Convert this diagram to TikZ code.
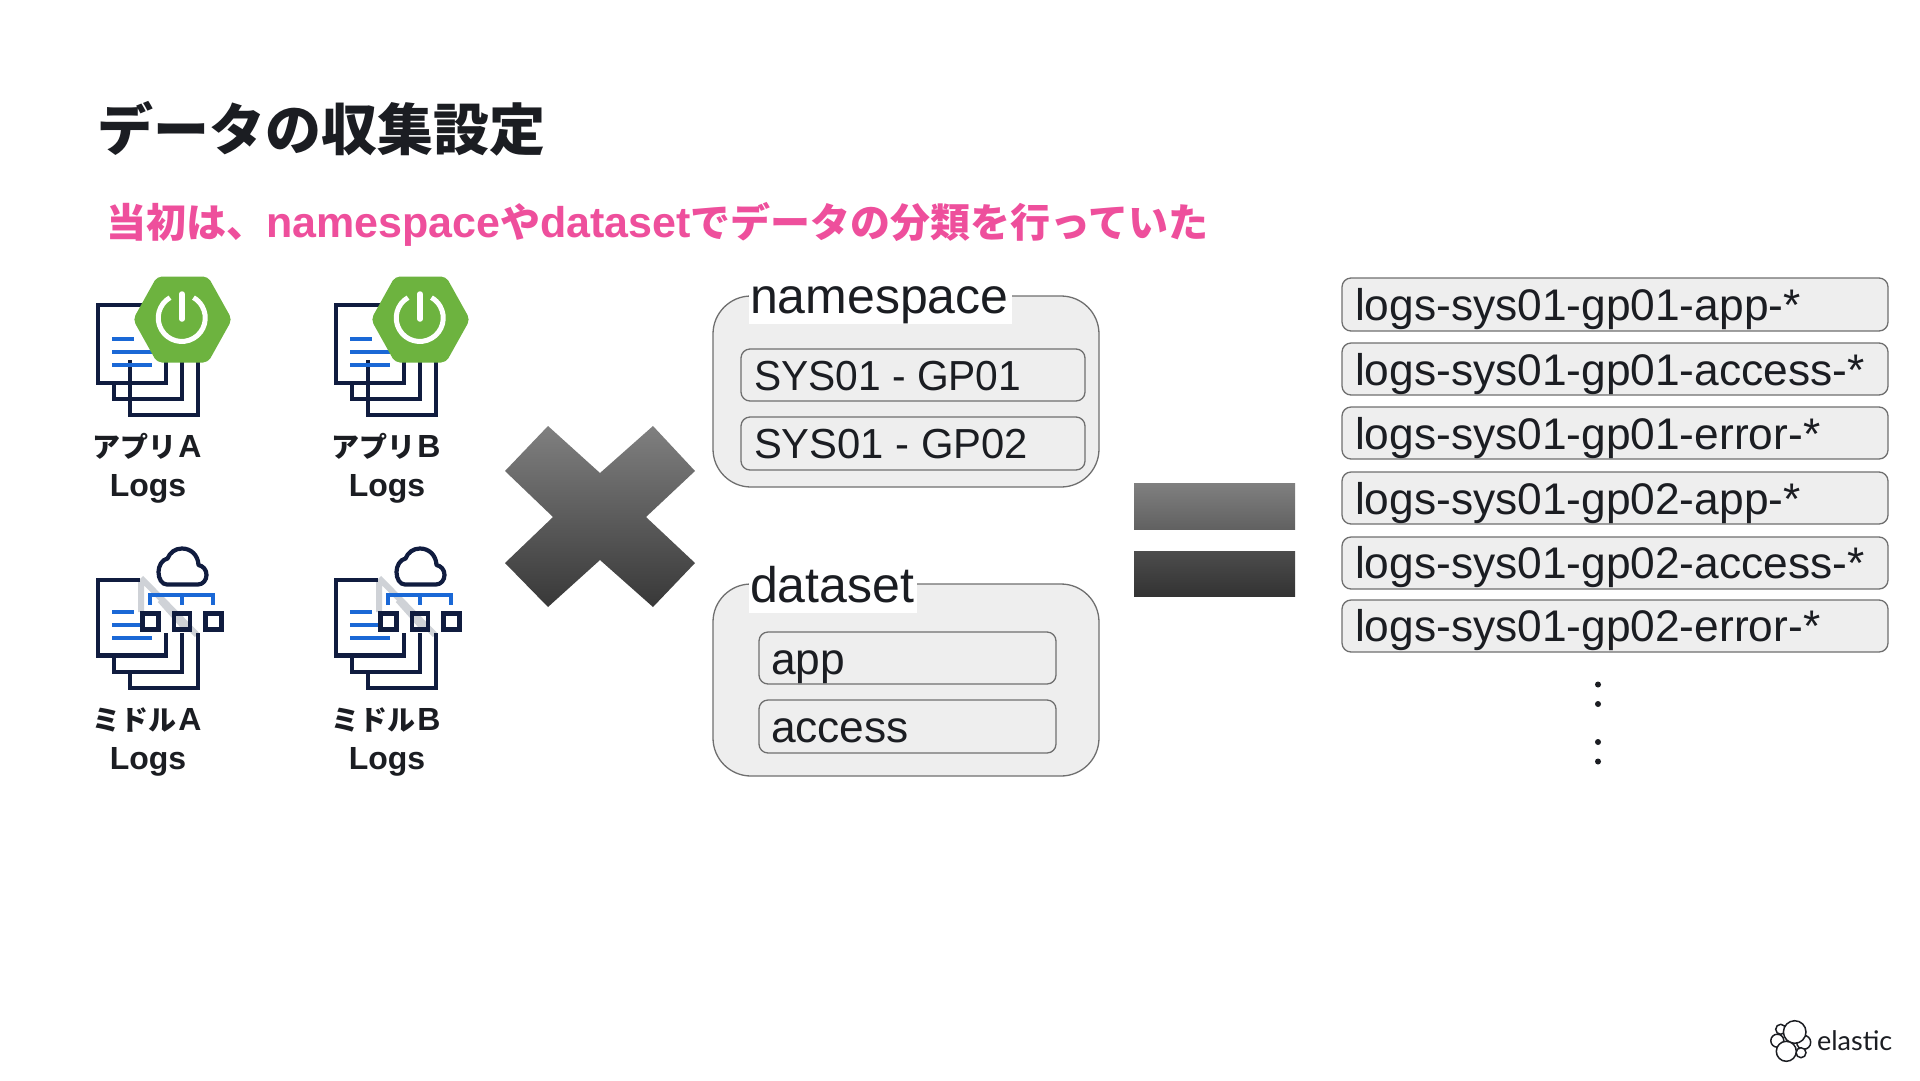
\documentclass[tikz,border=0pt]{standalone}
\usepackage{graphicx}
\usepackage{fontspec}
\setmainfont{Liberation Sans}
\newfontfamily\cjk{Noto Sans CJK JP}
\newfontfamily\elasticfont{Lato}
\usetikzlibrary{calc}
\definecolor{ink}{HTML}{1B1D22}
\definecolor{navy}{HTML}{101C3F}
\definecolor{bluel}{HTML}{1A68D6}
\definecolor{pinkt}{HTML}{EE4F9C}
\definecolor{boxfill}{HTML}{EEEEEE}
\definecolor{boxline}{HTML}{6F6F6F}
\definecolor{springg}{HTML}{6DB33F}
\definecolor{foldg}{HTML}{CFD2D7}
\newcommand{\fsz}[1]{\fontsize{#1}{#1}\selectfont}
\newcommand{\jps}[2]{{\cjk\fsz{#1}\bfseries #2}}
\tikzset{
  x=1pt,y=-1pt,
  txt/.style={inner sep=0pt,outer sep=0pt,text=ink,anchor=base west},
  groupbox/.style={draw=boxline,fill=boxfill,line width=1.3pt,rounded corners=38pt},
  itembox/.style={draw=boxline,fill=boxfill,line width=1.3pt,rounded corners=9pt},
  lab/.style={txt,font=\fsz{44.3}},
  capslab/.style={txt,font=\fsz{42}},
  biglab/.style={txt,font=\fsz{50}},
  captxt/.style={inner sep=0pt,outer sep=0pt,text=ink,anchor=base,font=\fsz{32}\bfseries},
  doc/.style={draw=navy,line width=4.6pt,miter limit=10},
  bl/.style={draw=bluel,line width=4.6pt},
  cloudl/.style={draw=navy,line width=4.2pt,line join=round},
  appicon/.pic={
    \draw[doc] (130,360) -- (130,415) -- (198,415) -- (198,355);
    \draw[doc] (114,385) -- (114,399) -- (182,399) -- (182,355);
    \draw[doc] (98,305) rectangle (166,383);
    \draw[bl] (112,339) -- (134,339) (112,352) -- (152,352) (112,365) -- (152,365);
    \fill[springg,rounded corners=5pt] (133,319.5) -- (157,276.5) -- (208,276.5) -- (232,319.5) -- (208,362.5) -- (157,362.5) -- cycle;
    \draw[white,line width=5pt] (170,297.6) arc[start angle=240,end angle=-60,radius=23.5];
    \draw[white,line width=5.5pt,line cap=round] (182,294) -- (182,319);
  },
  midicon/.pic={
    \draw[foldg,line width=6pt] (141,578) -- (197,635) (141,580) -- (141,612) (160,600) -- (185,628);
    \draw[doc] (140,579.8) -- (98,579.8) -- (98,655.5) -- (166,655.5) -- (166,633);
    \draw[doc] (114,657) -- (114,672) -- (182,672) -- (182,633);
    \draw[doc] (130,674) -- (130,688) -- (198,688) -- (198,633);
    \draw[bl] (112,612) -- (134,612) (112,625) -- (145,625) (112,638) -- (152,638);
    \draw[bl] (150,605) -- (150,595) -- (213,595) -- (213,605) (182,595) -- (182,605);
    \draw[navy,line width=4.6pt] (142.5,613.5) rectangle (158.5,629.5);
    \draw[navy,line width=4.6pt] (174,613.5) rectangle (190,629.5);
    \draw[navy,line width=4.6pt] (205.5,613.5) rectangle (221.5,629.5);
    \draw[cloudl] (167,584.5) -- (198,584.5)
      .. controls (203,584.5) and (206.5,580) .. (206.5,575)
      .. controls (206.5,569.5) and (203,566) .. (198.5,565)
      .. controls (198,555) and (191,548.5) .. (182,548.5)
      .. controls (175,548.5) and (170,552.5) .. (167.5,558.5)
      .. controls (162,559.5) and (158.5,566) .. (158.5,572)
      .. controls (158.5,579) and (162,584.5) .. (167,584.5) -- cycle;
  },
  xshape/.style={top color=black!50,bottom color=black!78},
  blob/.style={draw=ink,fill=white,line width=1.5pt}
}
\begin{document}
\begin{tikzpicture}
\useasboundingbox (0,0) rectangle (1920,1080);
\fill[white] (0,0) rectangle (1920,1080);

\node[txt,font=\cjk\fsz{56}\bfseries] (title) at (97,150) {データの収集設定};
\node[txt,text=pinkt,font=\fsz{43}\bfseries] (sub) at (106,237) {\jps{40}{当初は、}namespace\jps{40}{や}dataset\jps{40}{でデータの分類を行っていた}};

\pic {appicon};
\pic at (238,0) {appicon};
\pic {midicon};
\pic at (238,0) {midicon};

\node[captxt] (a1) at (147,457) {\jps{28}{アプリ}\kern2pt A};
\node[captxt] (a2) at (148,496) {Logs};
\node[captxt] (b1) at (386,457) {\jps{28}{アプリ}\kern2pt B};
\node[captxt] (b2) at (387,496) {Logs};
\node[captxt] (c1) at (147,730) {\jps{28}{ミドル}\kern2pt A};
\node[captxt] (c2) at (148,769) {Logs};
\node[captxt] (d1) at (386,730) {\jps{28}{ミドル}\kern2pt B};
\node[captxt] (d2) at (387,769) {Logs};

\shade[xshape] (548,426) -- (600,473) -- (653,426) -- (695,471) -- (646,517) -- (695,563) -- (653,607) -- (600,560) -- (548,607) -- (505,563) -- (553,517) -- (505,471) -- cycle;
\shade[top color=black!50,bottom color=black!62] (1134,483) rectangle (1295,529);
\shade[top color=black!70,bottom color=black!80] (1134,551) rectangle (1295,596);

\draw[groupbox] (713,296) rectangle (1099,487);
\fill[white] (749,290) rectangle (1012,324);
\node[biglab] (ns) at (750,313) {namespace};
\draw[itembox] (741,349) rectangle (1085,401);
\node[capslab] (g1) at (754,390) {\scalebox{0.97}[1]{SYS01 - GP01}};
\draw[itembox] (741,417) rectangle (1085,470);
\node[capslab] (g2) at (754,458) {\scalebox{0.995}[1]{SYS01 - GP02}};

\draw[groupbox] (713,584) rectangle (1099,776);
\fill[white] (749,578) rectangle (917,613);
\node[biglab] (ds) at (750,602) {dataset};
\draw[itembox] (759,632) rectangle (1056,684);
\node[lab] (ap) at (771,674) {app};
\draw[itembox] (759,700) rectangle (1056,753);
\node[lab] (ac) at (771,742) {access};

\draw[itembox] (1342,278) rectangle (1888,331);
\node[lab] (r1) at (1355,320) {logs-sys01-gp01-app-*};
\draw[itembox] (1342,343) rectangle (1888,395);
\node[lab] (r2) at (1355,385) {logs-sys01-gp01-access-*};
\draw[itembox] (1342,407) rectangle (1888,459);
\node[lab] (r3) at (1355,449) {logs-sys01-gp01-error-*};
\draw[itembox] (1342,472) rectangle (1888,524);
\node[lab] (r4) at (1355,514) {logs-sys01-gp02-app-*};
\draw[itembox] (1342,537) rectangle (1888,589);
\node[lab] (r5) at (1355,578) {logs-sys01-gp02-access-*};
\draw[itembox] (1342,600) rectangle (1888,652);
\node[lab] (r6) at (1355,641) {logs-sys01-gp02-error-*};

\fill[ink] (1598,684.5) circle (3) (1598,704) circle (3) (1598,742) circle (3) (1598,761.5) circle (3);

\draw[blob] (1780.7,1029.3) circle (5);
\draw[blob] (1777.3,1040.7) circle (6.5);
\draw[blob] (1803.7,1042.3) circle (7);
\draw[blob] (1801,1052.7) circle (5);
\draw[blob] (1794.7,1032) circle (11.3);
\draw[blob] (1786.3,1051.3) circle (10);
\node[txt,font=\elasticfont\fsz{27}] (el) at (1817,1050) {elastic};
\end{tikzpicture}
\end{document}
